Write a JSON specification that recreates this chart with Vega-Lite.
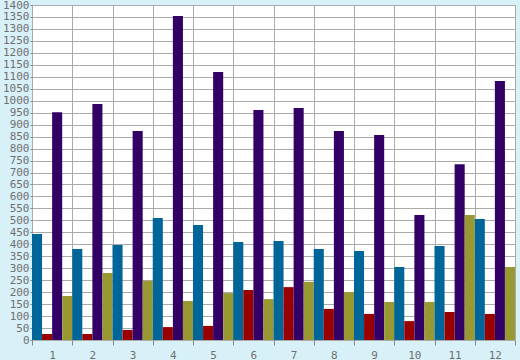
{
  "$schema": "https://vega.github.io/schema/vega-lite/v6.json",
  "width": 483,
  "height": 335,
  "autosize": {"type": "none"},
  "padding": {"left": 32, "top": 5, "right": 5, "bottom": 20},
  "background": "#D8F0F8",
  "view": {"fill": "#FFFFFF", "stroke": "#AAAAAA", "strokeWidth": 1},
  "config": {
    "font": "DejaVu Sans Mono",
    "axis": {
      "labelFont": "DejaVu Sans Mono",
      "labelFontSize": 11,
      "labelColor": "#707070",
      "labelOverlap": false,
      "gridColor": "#AAAAAA",
      "gridWidth": 1,
      "gridOpacity": 1,
      "domain": false,
      "title": null
    }
  },
  "data": {
    "values": [
      {"g": 1, "s": "a", "v": 443}, {"g": 1, "s": "b", "v": 25}, {"g": 1, "s": "c", "v": 952}, {"g": 1, "s": "d", "v": 184},
      {"g": 2, "s": "a", "v": 380}, {"g": 2, "s": "b", "v": 25}, {"g": 2, "s": "c", "v": 986}, {"g": 2, "s": "d", "v": 280},
      {"g": 3, "s": "a", "v": 397}, {"g": 3, "s": "b", "v": 42}, {"g": 3, "s": "c", "v": 873}, {"g": 3, "s": "d", "v": 247},
      {"g": 4, "s": "a", "v": 510}, {"g": 4, "s": "b", "v": 54}, {"g": 4, "s": "c", "v": 1354}, {"g": 4, "s": "d", "v": 163},
      {"g": 5, "s": "a", "v": 481}, {"g": 5, "s": "b", "v": 59}, {"g": 5, "s": "c", "v": 1120}, {"g": 5, "s": "d", "v": 196},
      {"g": 6, "s": "a", "v": 410}, {"g": 6, "s": "b", "v": 209}, {"g": 6, "s": "c", "v": 961}, {"g": 6, "s": "d", "v": 171},
      {"g": 7, "s": "a", "v": 414}, {"g": 7, "s": "b", "v": 221}, {"g": 7, "s": "c", "v": 970}, {"g": 7, "s": "d", "v": 243},
      {"g": 8, "s": "a", "v": 380}, {"g": 8, "s": "b", "v": 130}, {"g": 8, "s": "c", "v": 873}, {"g": 8, "s": "d", "v": 200},
      {"g": 9, "s": "a", "v": 372}, {"g": 9, "s": "b", "v": 109}, {"g": 9, "s": "c", "v": 857}, {"g": 9, "s": "d", "v": 159},
      {"g": 10, "s": "a", "v": 305}, {"g": 10, "s": "b", "v": 79}, {"g": 10, "s": "c", "v": 522}, {"g": 10, "s": "d", "v": 159},
      {"g": 11, "s": "a", "v": 393}, {"g": 11, "s": "b", "v": 117}, {"g": 11, "s": "c", "v": 735}, {"g": 11, "s": "d", "v": 522},
      {"g": 12, "s": "a", "v": 506}, {"g": 12, "s": "b", "v": 109}, {"g": 12, "s": "c", "v": 1082}, {"g": 12, "s": "d", "v": 305}
    ]
  },
  "mark": {"type": "bar"},
  "encoding": {
    "x": {
      "field": "g",
      "type": "ordinal",
      "scale": {"paddingInner": 0, "paddingOuter": 0},
      "axis": {
        "labelAngle": 0,
        "tickBand": "extent",
        "ticks": true,
        "tickSize": 5,
        "tickColor": "#888888",
        "labelPadding": 4,
        "labelBaseline": "top",
        "grid": true
      }
    },
    "xOffset": {
      "field": "s",
      "type": "nominal",
      "scale": {"domain": ["a", "b", "c", "d"], "paddingInner": 0, "paddingOuter": 0}
    },
    "y": {
      "field": "v",
      "type": "quantitative",
      "scale": {"domain": [0, 1400], "nice": false},
      "axis": {
        "values": [0, 50, 100, 150, 200, 250, 300, 350, 400, 450, 500, 550, 600, 650, 700, 750, 800, 850, 900, 950, 1000, 1050, 1100, 1150, 1200, 1250, 1300, 1350, 1400],
        "format": "d",
        "ticks": true,
        "tickSize": 2,
        "tickColor": "#888888",
        "labelPadding": 1,
        "grid": true
      }
    },
    "color": {
      "field": "s",
      "type": "nominal",
      "scale": {"domain": ["a", "b", "c", "d"], "range": ["#006699", "#990000", "#330066", "#999933"]},
      "legend": null
    }
  }
}
